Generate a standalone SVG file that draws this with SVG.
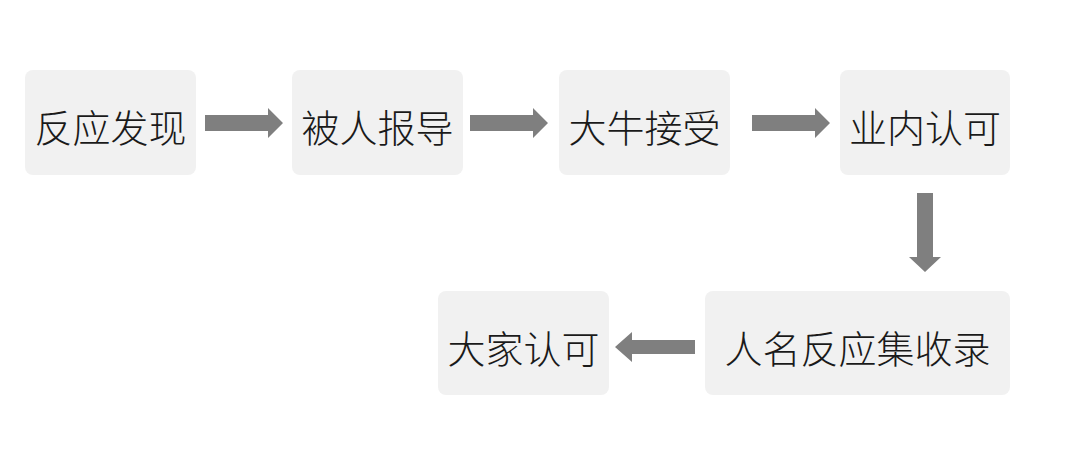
<svg xmlns="http://www.w3.org/2000/svg" width="1080" height="470" viewBox="0 0 1080 470">
<style>
.box{fill:#f1f1f1;}
.lbl{font-family:"Noto Sans CJK SC","Noto Sans",sans-serif;font-size:38px;font-weight:300;fill:#1a1a1a;text-anchor:middle;dominant-baseline:central;}
.arr{fill:#7f7f7f;}
</style>
<rect width="1080" height="470" fill="#ffffff"/>
<g id="n1"><rect class="box" x="25" y="70" width="171" height="105" rx="8"/><text class="lbl" x="110.5" y="125">反应发现</text></g>
<g id="n2"><rect class="box" x="292" y="70" width="171" height="105" rx="8"/><text class="lbl" x="377.5" y="125">被人报导</text></g>
<g id="n3"><rect class="box" x="559" y="70" width="171" height="105" rx="8"/><text class="lbl" x="644.5" y="125">大牛接受</text></g>
<g id="n4"><rect class="box" x="840" y="70" width="170" height="105" rx="8"/><text class="lbl" x="925" y="125">业内认可</text></g>
<g id="n5"><rect class="box" x="705" y="291" width="305" height="104" rx="8"/><text class="lbl" x="857.5" y="346">人名反应集收录</text></g>
<g id="n6"><rect class="box" x="438" y="291" width="171" height="104" rx="8"/><text class="lbl" x="523.5" y="346">大家认可</text></g>
<g id="connectors">
<polygon class="arr" points="205,115 268,115 268,108 283,123 268,138 268,131 205,131"/>
<polygon class="arr" points="470,115 533,115 533,108 548,123 533,138 533,131 470,131"/>
<polygon class="arr" points="752,115 815,115 815,108 830,123 815,138 815,131 752,131"/>
<polygon class="arr" points="917,193 933,193 933,257 941,257 925,272 909,257 917,257"/>
<polygon class="arr" points="695,340 632,340 632,332 615,347 632,362 632,354 695,354"/>
</g>
</svg>
